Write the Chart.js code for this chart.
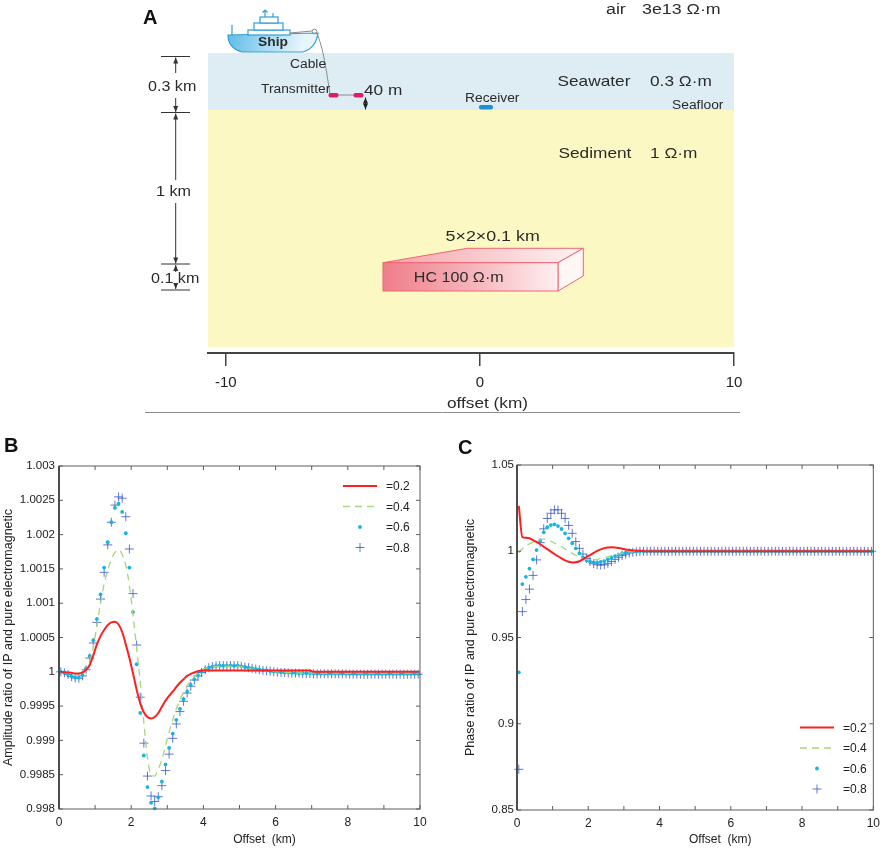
<!DOCTYPE html>
<html>
<head>
<meta charset="utf-8">
<title>Marine CSEM model and IP ratio curves</title>
<script src="https://cdn.jsdelivr.net/npm/chart.js@4.4.1/dist/chart.umd.min.js"></script>
<style>
    body { margin: 0; background: #fff; }
    #page { position: relative; width: 886px; height: 849px; overflow: hidden; }
    canvas { position: absolute; }
    .tag { position: absolute; font: bold 20px "Liberation Sans", Arial, sans-serif; color: #111; line-height: 22px; }
</style>
</head>
<body>
<div id="page">
    <canvas id="panelA" width="886" height="425" style="left:0;top:0"></canvas>
    <canvas id="panelB" width="443" height="424" style="left:0;top:425px"></canvas>
    <canvas id="panelC" width="443" height="424" style="left:443px;top:425px"></canvas>
    <div class="tag" style="left:143px;top:6px">A</div>
    <div class="tag" style="left:4px;top:434px">B</div>
    <div class="tag" style="left:458px;top:436px">C</div>
</div>
<script>
const FONT = '"Liberation Sans", Arial, sans-serif';

// receiver offsets (km)
const offsets = [
    0.05, 0.15, 0.25, 0.35, 0.45, 0.55, 0.65, 0.75, 0.85, 0.95,
    1.05, 1.15, 1.25, 1.35, 1.45, 1.55, 1.65, 1.75, 1.85, 1.95,
    2.05, 2.15, 2.25, 2.35, 2.45, 2.55, 2.65, 2.75, 2.85, 2.95,
    3.05, 3.15, 3.25, 3.35, 3.45, 3.55, 3.65, 3.75, 3.85, 3.95,
    4.05, 4.15, 4.25, 4.35, 4.45, 4.55, 4.65, 4.75, 4.85, 4.95,
    5.05, 5.15, 5.25, 5.35, 5.45, 5.55, 5.65, 5.75, 5.85, 5.95,
    6.05, 6.15, 6.25, 6.35, 6.45, 6.55, 6.65, 6.75, 6.85, 6.95,
    7.05, 7.15, 7.25, 7.35, 7.45, 7.55, 7.65, 7.75, 7.85, 7.95,
    8.05, 8.15, 8.25, 8.35, 8.45, 8.55, 8.65, 8.75, 8.85, 8.95,
    9.05, 9.15, 9.25, 9.35, 9.45, 9.55, 9.65, 9.75, 9.85, 9.95
];

const etaLabels = ['=0.2', '=0.4', '=0.6', '=0.8'];

// B: amplitude ratio
const ampEta02 = [
    1.00000, 0.999995, 0.99999, 0.999985, 0.999975, 0.999975, 0.99999, 1.00003, 1.00010, 1.00024,
    1.00040, 1.00052, 1.00061, 1.00068, 1.00072, 1.00073, 1.00069, 1.00058, 1.00040, 1.00020,
    0.99998, 0.99974, 0.99954, 0.99941, 0.99934, 0.99932, 0.99934, 0.99940, 0.99949, 0.99958,
    0.99965, 0.99971, 0.99978, 0.99984, 0.99989, 0.99994, 0.99997, 0.99999, 1.00001, 1.00002,
    1.00002, 1.00002, 1.00002, 1.00002, 1.00002, 1.00002, 1.00002, 1.00002, 1.00002, 1.00002,
    1.00002, 1.00002, 1.00002, 1.00002, 1.00002, 1.00002, 1.00002, 1.00002, 1.00002, 1.00002,
    1.00002, 1.00002, 1.00002, 1.00002, 1.00002, 1.00002, 1.00002, 1.00002, 1.00002, 1.00002,
    1.00000, 1.00000, 1.00000, 1.00000, 1.00000, 1.00000, 1.00000, 1.00000, 1.00000, 1.00000,
    1.00000, 1.00000, 1.00000, 1.00000, 1.00000, 1.00000, 1.00000, 1.00000, 1.00000, 1.00000,
    1.00000, 1.00000, 1.00000, 1.00000, 1.00000, 1.00000, 1.00000, 1.00000, 1.00000, 1.00000
];
const ampEta04 = [
    1.00000, 0.99999, 0.99998, 0.99996, 0.99995, 0.99995, 0.99997, 1.00004, 1.00016, 1.00036,
    1.00068, 1.00100, 1.00128, 1.00148, 1.00164, 1.00174, 1.00178, 1.00171, 1.00155, 1.00126,
    1.00083, 1.00035, 0.99985, 0.99926, 0.99875, 0.99850, 0.99848, 0.99858, 0.99872, 0.99892,
    0.99912, 0.99930, 0.99946, 0.99959, 0.99970, 0.99979, 0.99987, 0.99993, 0.99998, 1.00002,
    1.00005, 1.00006, 1.00007, 1.00008, 1.00008, 1.00008, 1.00008, 1.00008, 1.00008, 1.00008,
    1.00007, 1.00006, 1.00005, 1.00004, 1.00003, 1.000025, 1.00002, 1.000015, 1.00001, 1.000005,
    1.00000, 1.00000, 0.999995, 0.99999, 0.99999, 0.999985, 0.999985, 0.99998, 0.99998, 0.99998,
    0.99998, 0.99998, 0.99998, 0.99998, 0.99998, 0.99998, 0.99998, 0.99998, 0.99998, 0.99998,
    0.99998, 0.99998, 0.99998, 0.99998, 0.99998, 0.99998, 0.99998, 0.99998, 0.99998, 0.99998,
    0.99998, 0.99998, 0.99998, 0.99998, 0.99998, 0.99998, 0.99998, 0.99998, 0.99998, 0.99998
];
const ampEta06 = [
    1.00000, 0.99999, 0.999965, 0.999935, 0.999915, 0.999915, 0.999955, 1.00005, 1.00023, 1.00046,
    1.00077, 1.00113, 1.00152, 1.00189, 1.00218, 1.00239, 1.00245, 1.00233, 1.00202, 1.00152,
    1.00087, 1.00011, 0.99940, 0.99878, 0.99832, 0.99809, 0.99801, 0.99817, 0.99840, 0.99865,
    0.99889, 0.99910, 0.99930, 0.99946, 0.99960, 0.99971, 0.99981, 0.99989, 0.99995, 1.00000,
    1.00003, 1.00006, 1.000075, 1.000085, 1.00009, 1.00009, 1.00009, 1.00009, 1.00009, 1.00009,
    1.00008, 1.00007, 1.00006, 1.00005, 1.00004, 1.00003, 1.000025, 1.00002, 1.00001, 1.000005,
    1.00000, 0.999995, 0.99999, 0.99999, 0.999985, 0.999985, 0.99998, 0.99998, 0.99998, 0.99998,
    0.999975, 0.999975, 0.999975, 0.999975, 0.999975, 0.999975, 0.999975, 0.999975, 0.999975, 0.999975,
    0.99997, 0.99997, 0.99997, 0.99997, 0.99997, 0.99997, 0.99997, 0.99997, 0.99997, 0.99997,
    0.99997, 0.99997, 0.99997, 0.99997, 0.99997, 0.99997, 0.99997, 0.99997, 0.99997, 0.99997
];
const ampEta08 = [
    1.00000, 0.999985, 0.99996, 0.99993, 0.99991, 0.999905, 0.99994, 1.00003, 1.00020, 1.00042,
    1.00072, 1.00106, 1.00145, 1.00185, 1.00218, 1.00243, 1.00255, 1.00253, 1.00226, 1.00179,
    1.00114, 1.00039, 0.99963, 0.99896, 0.99848, 0.99819, 0.99811, 0.99818, 0.99834, 0.99856,
    0.99880, 0.99903, 0.99924, 0.99942, 0.99957, 0.99969, 0.99979, 0.99988, 0.99994, 0.99999,
    1.00003, 1.00006, 1.000075, 1.000085, 1.00009, 1.00009, 1.00009, 1.00009, 1.00009, 1.00009,
    1.00008, 1.00007, 1.00006, 1.00005, 1.00004, 1.00003, 1.00002, 1.000015, 1.00001, 1.00000,
    0.999995, 0.99999, 0.99999, 0.999985, 0.99998, 0.99998, 0.99998, 0.999975, 0.999975, 0.999975,
    0.99997, 0.99997, 0.99997, 0.99997, 0.99997, 0.99997, 0.99997, 0.99997, 0.99997, 0.99997,
    0.999965, 0.999965, 0.999965, 0.999965, 0.999965, 0.999965, 0.999965, 0.999965, 0.999965, 0.999965,
    0.999965, 0.999965, 0.999965, 0.999965, 0.999965, 0.999965, 0.999965, 0.999965, 0.999965, 0.999965
];

// C: phase ratio
const phaseEta02 = [
    1.0263, 1.0082, 1.0078, 1.0075, 1.0065, 1.0054, 1.0042, 1.0026, 1.0012, 0.9998,
    0.9984, 0.9971, 0.9959, 0.9947, 0.9939, 0.9935, 0.9936, 0.9942, 0.9953, 0.9966,
    0.9978, 0.9990, 1.0002, 1.0011, 1.0018, 1.0022, 1.0023, 1.0022, 1.0019, 1.0015,
    1.0010, 1.0007, 1.0005, 1.0003, 1.0002, 1.0001, 1.0000, 1.0000, 1.0000, 1.0000,
    1.0000, 1.0000, 1.0000, 1.0000, 1.0000, 1.0000, 1.0000, 1.0000, 1.0000, 1.0000,
    1.0000, 1.0000, 1.0000, 1.0000, 1.0000, 1.0000, 1.0000, 1.0000, 1.0000, 1.0000,
    1.0000, 1.0000, 1.0000, 1.0000, 1.0000, 1.0000, 1.0000, 1.0000, 1.0000, 1.0000,
    1.0000, 1.0000, 1.0000, 1.0000, 1.0000, 1.0000, 1.0000, 1.0000, 1.0000, 1.0000,
    1.0000, 1.0000, 1.0000, 1.0000, 1.0000, 1.0000, 1.0000, 1.0000, 1.0000, 1.0000,
    1.0000, 1.0000, 1.0000, 1.0000, 1.0000, 1.0000, 1.0000, 1.0000, 1.0000, 1.0000
];
const phaseEta04 = [
    0.9990, 1.0015, 1.0030, 1.0043, 1.0053, 1.0062, 1.0068, 1.0070, 1.0066, 1.0058,
    1.0048, 1.0037, 1.0026, 1.0013, 1.0000, 0.9988, 0.9977, 0.9967, 0.9959, 0.9953,
    0.9950, 0.9950, 0.9953, 0.9957, 0.9962, 0.9968, 0.9974, 0.9980, 0.9985, 0.9989,
    0.9993, 0.9996, 0.9998, 0.9999, 1.0000, 1.0000, 1.0000, 1.0000, 1.0000, 1.0000,
    1.0000, 1.0000, 1.0000, 1.0000, 1.0000, 1.0000, 1.0000, 1.0000, 1.0000, 1.0000,
    1.0000, 1.0000, 1.0000, 1.0000, 1.0000, 1.0000, 1.0000, 1.0000, 1.0000, 1.0000,
    1.0000, 1.0000, 1.0000, 1.0000, 1.0000, 1.0000, 1.0000, 1.0000, 1.0000, 1.0000,
    1.0000, 1.0000, 1.0000, 1.0000, 1.0000, 1.0000, 1.0000, 1.0000, 1.0000, 1.0000,
    1.0000, 1.0000, 1.0000, 1.0000, 1.0000, 1.0000, 1.0000, 1.0000, 1.0000, 1.0000,
    1.0000, 1.0000, 1.0000, 1.0000, 1.0000, 1.0000, 1.0000, 1.0000, 1.0000, 1.0000
];
const phaseEta06 = [
    0.9298, 0.9810, 0.9852, 0.9899, 0.9953, 1.0007, 1.0061, 1.0110, 1.0139, 1.0152,
    1.0156, 1.0146, 1.0129, 1.0104, 1.0075, 1.0046, 1.0017, 0.9988, 0.9965, 0.9949,
    0.9940, 0.9936, 0.9934, 0.9938, 0.9943, 0.9953, 0.9963, 0.9972, 0.9980, 0.9988,
    0.9992, 0.9996, 0.9998, 0.9999, 1.0000, 1.0000, 1.0000, 1.0000, 1.0000, 1.0000,
    1.0000, 1.0000, 1.0000, 1.0000, 1.0000, 1.0000, 1.0000, 1.0000, 1.0000, 1.0000,
    1.0000, 1.0000, 1.0000, 1.0000, 1.0000, 1.0000, 1.0000, 1.0000, 1.0000, 1.0000,
    1.0000, 1.0000, 1.0000, 1.0000, 1.0000, 1.0000, 1.0000, 1.0000, 1.0000, 1.0000,
    1.0000, 1.0000, 1.0000, 1.0000, 1.0000, 1.0000, 1.0000, 1.0000, 1.0000, 1.0000,
    1.0000, 1.0000, 1.0000, 1.0000, 1.0000, 1.0000, 1.0000, 1.0000, 1.0000, 1.0000,
    1.0000, 1.0000, 1.0000, 1.0000, 1.0000, 1.0000, 1.0000, 1.0000, 1.0000, 1.0000
];
const phaseEta08 = [
    0.8736, 0.9650, 0.9720, 0.9780, 0.9860, 0.9950, 1.0050, 1.0130, 1.0190, 1.0220,
    1.0240, 1.0240, 1.0220, 1.0190, 1.0150, 1.0104, 1.0056, 1.0017, 0.9984, 0.9958,
    0.9940, 0.9928, 0.9922, 0.9920, 0.9922, 0.9930, 0.9941, 0.9953, 0.9965, 0.9975,
    0.9983, 0.9990, 0.9994, 0.9997, 0.9999, 1.0000, 1.0000, 1.0000, 1.0000, 1.0000,
    1.0000, 1.0000, 1.0000, 1.0000, 1.0000, 1.0000, 1.0000, 1.0000, 1.0000, 1.0000,
    1.0000, 1.0000, 1.0000, 1.0000, 1.0000, 1.0000, 1.0000, 1.0000, 1.0000, 1.0000,
    1.0000, 1.0000, 1.0000, 1.0000, 1.0000, 1.0000, 1.0000, 1.0000, 1.0000, 1.0000,
    1.0000, 1.0000, 1.0000, 1.0000, 1.0000, 1.0000, 1.0000, 1.0000, 1.0000, 1.0000,
    1.0000, 1.0000, 1.0000, 1.0000, 1.0000, 1.0000, 1.0000, 1.0000, 1.0000, 1.0000,
    1.0000, 1.0000, 1.0000, 1.0000, 1.0000, 1.0000, 1.0000, 1.0000, 1.0000, 1.0000
];

const offsetTicks = [0, 2, 4, 6, 8, 10];
const sectionTicks = [-10, 0, 10];

// text squeezed a bit wider, like the scanned schematic
function wideText(ctx, text, x, y, size, align = 'left', bold = false) {
    ctx.save();
    ctx.font = `${bold ? 'bold ' : ''}${size}px ${FONT}`;
    ctx.fillStyle = '#2b2b2b';
    ctx.textBaseline = 'middle';
    ctx.textAlign = align;
    ctx.translate(x, y);
    ctx.scale(1.15, 1);
    ctx.fillText(text, 0, 0);
    ctx.restore();
}

function arrowHead(ctx, x, y, dir) {
    ctx.beginPath();
    ctx.moveTo(x, y);
    ctx.lineTo(x - 2.5, y - dir * 6);
    ctx.lineTo(x + 2.5, y - dir * 6);
    ctx.closePath();
    ctx.fill();
}

function vArrow(ctx, x, y0, y1) {
    ctx.beginPath();
    ctx.moveTo(x, y0);
    ctx.lineTo(x, y1);
    ctx.stroke();
    arrowHead(ctx, x, y1, y1 > y0 ? 1 : -1);
}

// model sketch of panel A
const schematic = {
    id: 'schematic',
    beforeDraw(chart) {
        const { ctx, chartArea: a } = chart;
        ctx.save();
        ctx.fillStyle = '#ddedf3';
        ctx.fillRect(a.left, a.top, a.right - a.left, 110 - a.top);
        ctx.fillStyle = '#fbf8c4';
        ctx.fillRect(a.left, 110, a.right - a.left, 347 - 110);
        ctx.restore();
    },
    afterDraw(chart) {
        const ctx = chart.ctx;
        ctx.save();

        // ship
        const hull = ctx.createLinearGradient(228, 34, 300, 54);
        hull.addColorStop(0, '#5fbce8');
        hull.addColorStop(1, '#e6f6fc');
        ctx.fillStyle = hull;
        ctx.strokeStyle = '#2f9fd6';
        ctx.lineWidth = 1.2;
        ctx.beginPath();
        ctx.moveTo(228, 35);
        ctx.lineTo(318, 33);
        ctx.quadraticCurveTo(316, 48, 303, 52);
        ctx.lineTo(242, 52);
        ctx.quadraticCurveTo(228, 48, 228, 35);
        ctx.closePath();
        ctx.fill();
        ctx.stroke();
        ctx.fillStyle = '#fff';
        [[248, 30, 42, 5], [254, 23, 29, 7], [260, 17, 18, 6]].forEach(([x, y, w, h]) => {
            ctx.fillRect(x, y, w, h);
            ctx.strokeRect(x, y, w, h);
        });
        ctx.beginPath();
        ctx.moveTo(265, 17); ctx.lineTo(265, 10);
        ctx.moveTo(262.5, 12.5); ctx.lineTo(265, 10); ctx.lineTo(267.5, 12.5);
        ctx.moveTo(273, 17); ctx.lineTo(273, 13);
        ctx.moveTo(232, 35); ctx.lineTo(232, 25);
        ctx.stroke();
        wideText(ctx, 'Ship', 258, 43, 12, 'left', true);

        // cable down to the towed transmitter
        ctx.strokeStyle = '#8a8a8a';
        ctx.lineWidth = 1;
        ctx.beginPath();
        ctx.moveTo(290, 33);
        ctx.lineTo(312, 31);
        ctx.stroke();
        ctx.beginPath();
        ctx.arc(314.5, 31.5, 2.3, 0, Math.PI * 2);
        ctx.stroke();
        ctx.beginPath();
        ctx.moveTo(316.5, 33);
        ctx.bezierCurveTo(323, 45, 327, 75, 330, 94);
        ctx.moveTo(333, 95);
        ctx.lineTo(358, 95);
        ctx.stroke();
        ctx.fillStyle = '#e01c6c';
        ctx.beginPath();
        ctx.roundRect(328.5, 93, 10, 4.5, 2);
        ctx.roundRect(353.5, 93, 10, 4.5, 2);
        ctx.fill();
        ctx.fillStyle = '#1d90d8';
        ctx.beginPath();
        ctx.roundRect(479, 105, 14, 4.5, 2);
        ctx.fill();

        ctx.fillStyle = '#222';
        ctx.strokeStyle = '#222';
        vArrow(ctx, 365.5, 103, 97.5);
        vArrow(ctx, 365.5, 103, 109.5);

        wideText(ctx, 'Cable', 290, 65, 12);
        wideText(ctx, 'Transmitter', 261, 90, 12);
        wideText(ctx, '40 m', 364, 91, 15);
        wideText(ctx, 'Receiver', 465, 99, 12);
        wideText(ctx, 'Seafloor', 672, 106, 12);
        wideText(ctx, 'air', 606, 10, 15.5);
        wideText(ctx, '3e13 Ω·m', 642, 10, 15.5);
        wideText(ctx, 'Seawater', 557.5, 82, 15);
        wideText(ctx, '0.3 Ω·m', 650, 82, 15);
        wideText(ctx, 'Sediment', 558.5, 154, 15);
        wideText(ctx, '1 Ω·m', 650, 154, 15);

        // hydrocarbon block
        const top = ctx.createLinearGradient(383, 0, 583, 0);
        top.addColorStop(0, '#f3a2aa');
        top.addColorStop(1, '#fff3f3');
        ctx.fillStyle = top;
        ctx.strokeStyle = '#ee6673';
        ctx.beginPath();
        ctx.moveTo(383, 262.7);
        ctx.lineTo(467.4, 248.3);
        ctx.lineTo(583.3, 248.3);
        ctx.lineTo(558, 262.7);
        ctx.closePath();
        ctx.fill();
        ctx.stroke();
        ctx.fillStyle = '#fff6f6';
        ctx.beginPath();
        ctx.moveTo(558, 262.7);
        ctx.lineTo(583.3, 248.3);
        ctx.lineTo(583.3, 276);
        ctx.lineTo(558, 291);
        ctx.closePath();
        ctx.fill();
        ctx.stroke();
        const front = ctx.createLinearGradient(383, 0, 558, 0);
        front.addColorStop(0, '#ef7e8a');
        front.addColorStop(0.55, '#f6b8be');
        front.addColorStop(1, '#fff0f1');
        ctx.fillStyle = front;
        ctx.fillRect(383, 262.7, 175, 28.3);
        ctx.strokeRect(383, 262.7, 175, 28.3);
        wideText(ctx, 'HC 100 Ω·m', 413.8, 278, 14);
        wideText(ctx, '5×2×0.1 km', 445.6, 237, 15.5);

        // thickness marks on the left
        ctx.strokeStyle = '#333';
        ctx.fillStyle = '#333';
        ctx.lineWidth = 1;
        ctx.beginPath();
        [56.5, 112.5, 264, 290].forEach(y => {
            ctx.moveTo(161, y);
            ctx.lineTo(190, y);
        });
        ctx.stroke();
        vArrow(ctx, 175.7, 73, 57.5);
        vArrow(ctx, 175.7, 98, 112);
        vArrow(ctx, 175.7, 180, 113.5);
        vArrow(ctx, 175.7, 203, 263.5);
        vArrow(ctx, 175.7, 272, 265);
        vArrow(ctx, 175.7, 283, 289);
        wideText(ctx, '0.3 km', 148, 87, 14);
        wideText(ctx, '1 km', 156, 192, 14);
        wideText(ctx, '0.1 km', 151, 279, 14);

        // axis caption and rule under it
        wideText(ctx, 'offset (km)', 487.5, 404, 15, 'center');
        ctx.strokeStyle = '#8c8c8c';
        ctx.beginPath();
        ctx.moveTo(145, 412.5);
        ctx.lineTo(740, 412.5);
        ctx.stroke();
        ctx.restore();
    }
};

// box with inward ticks on all four sides
const boxTicks = {
    id: 'boxTicks',
    afterDatasetsDraw(chart, args, o) {
        const { ctx, chartArea: a, scales: { x, y } } = chart;
        ctx.save();
        ctx.strokeStyle = '#5c5c5c';
        ctx.lineWidth = 1;
        ctx.beginPath();
        x.ticks.forEach(t => {
            const p = x.getPixelForValue(t.value);
            ctx.moveTo(p, a.bottom); ctx.lineTo(p, a.bottom - 4);
            ctx.moveTo(p, a.top); ctx.lineTo(p, a.top + 4);
        });
        y.ticks.forEach(t => {
            const p = y.getPixelForValue(t.value);
            ctx.moveTo(a.left, p); ctx.lineTo(a.left + 4, p);
            ctx.moveTo(a.right, p); ctx.lineTo(a.right - 4, p);
        });
        ctx.stroke();
        ctx.strokeRect(a.left, a.top, a.right - a.left, a.bottom - a.top);
        ctx.lineWidth = 1.8;
        ctx.strokeStyle = '#444';
        ctx.beginPath();
        ctx.moveTo(a.left, a.top);
        ctx.lineTo(a.left, a.bottom);
        ctx.stroke();

        ctx.fillStyle = '#222';
        ctx.font = `12px ${FONT}`;
        ctx.textAlign = 'center';
        ctx.textBaseline = 'middle';
        ctx.fillText(o.text, (a.left + a.right) / 2 + o.dx, chart.height - 9);
        ctx.restore();
    }
};

// legend drawn inside the plot from the dataset styles
const insetLegend = {
    id: 'insetLegend',
    afterDraw(chart, args, o) {
        const ctx = chart.ctx;
        ctx.save();
        chart.data.datasets.forEach((ds, i) => {
            const y = o.y + i * o.gap;
            const mid = o.x + o.len / 2;
            if (ds.showLine) {
                ctx.strokeStyle = ds.borderColor;
                ctx.lineWidth = ds.borderWidth;
                ctx.setLineDash(ds.borderDash || []);
                ctx.beginPath();
                ctx.moveTo(o.x, y);
                ctx.lineTo(o.x + o.len, y);
                ctx.stroke();
                ctx.setLineDash([]);
            } else if (ds.pointStyle === 'circle') {
                ctx.fillStyle = ds.backgroundColor;
                ctx.beginPath();
                ctx.arc(mid, y, ds.pointRadius, 0, Math.PI * 2);
                ctx.fill();
            } else {
                ctx.strokeStyle = ds.borderColor;
                ctx.lineWidth = ds.borderWidth;
                ctx.beginPath();
                ctx.moveTo(mid - ds.pointRadius, y); ctx.lineTo(mid + ds.pointRadius, y);
                ctx.moveTo(mid, y - ds.pointRadius); ctx.lineTo(mid, y + ds.pointRadius);
                ctx.stroke();
            }
            ctx.fillStyle = '#222';
            ctx.font = `12px ${FONT}`;
            ctx.textBaseline = 'middle';
            ctx.fillText(ds.label, o.textX, y + 1);
        });
        ctx.restore();
    }
};

function seriesSets(lists) {
    const pts = list => offsets.map((x, i) => ({ x, y: list[i] }));
    return [
        { label: etaLabels[0], data: pts(lists[0]), showLine: true, borderColor: '#ff1f1f', borderWidth: 2,
          pointRadius: 0, cubicInterpolationMode: 'monotone' },
        { label: etaLabels[1], data: pts(lists[1]), showLine: true, borderColor: '#a6d77a', borderWidth: 1.3,
          borderDash: [7, 5], pointRadius: 0, cubicInterpolationMode: 'monotone' },
        { label: etaLabels[2], data: pts(lists[2]), showLine: false, pointStyle: 'circle', pointRadius: 1.9,
          backgroundColor: '#19b3e0', borderColor: '#19b3e0', borderWidth: 0, clip: 6 },
        { label: etaLabels[3], data: pts(lists[3]), showLine: false, pointStyle: 'cross', pointRadius: 4.5,
          borderColor: 'rgba(58,88,196,0.8)', borderWidth: 1, clip: 6 }
    ];
}

function ratioChart(id, lists, cfg) {
    return new Chart(document.getElementById(id), {
        type: 'scatter',
        data: { datasets: seriesSets(lists) },
        options: {
            responsive: false,
            animation: false,
            events: [],
            layout: { padding: { left: cfg.padLeft, right: cfg.padRight, top: cfg.padTop, bottom: 0 } },
            plugins: {
                legend: { display: false },
                tooltip: { enabled: false },
                insetLegend: cfg.legend,
                boxTicks: { text: 'Offset  (km)', dx: 25 }
            },
            scales: {
                x: {
                    type: 'linear', min: 0, max: 10,
                    afterFit: s => { s.height = cfg.xHeight; },
                    grid: { display: false, drawTicks: false },
                    border: { display: false },
                    ticks: {
                        stepSize: 1, autoSkip: false, maxRotation: 0, padding: 6, color: '#222',
                        font: { family: FONT, size: 12 },
                        callback: v => offsetTicks.includes(v) ? String(v) : ''
                    }
                },
                y: {
                    min: cfg.min, max: cfg.max,
                    afterFit: s => { s.width = cfg.yWidth; },
                    grid: { display: false, drawTicks: false },
                    border: { display: false },
                    ticks: {
                        stepSize: cfg.step, padding: cfg.tickPad, color: '#222',
                        font: { family: FONT, size: 11.5 },
                        callback: v => String(+v.toFixed(cfg.digits))
                    },
                    title: {
                        display: true, text: cfg.title, color: '#222',
                        font: { family: FONT, size: 12.5 }, padding: { top: cfg.titlePad, bottom: 0 }
                    }
                }
            }
        },
        plugins: [boxTicks, insetLegend]
    });
}

new Chart(document.getElementById('panelA'), {
    type: 'scatter',
    data: { datasets: [] },
    options: {
        responsive: false,
        animation: false,
        events: [],
        layout: { padding: { left: 208, right: 152, top: 53, bottom: 0 } },
        plugins: { legend: { display: false }, tooltip: { enabled: false } },
        scales: {
            x: {
                type: 'linear', min: -10.7, max: 10,
                afterBuildTicks: s => { s.ticks = sectionTicks.map(v => ({ value: v })); },
                afterFit: s => { s.height = 72; },
                border: { display: true, color: '#444', width: 2 },
                grid: { drawOnChartArea: false, drawTicks: true, tickLength: 13, color: '#444', lineWidth: 1.5 },
                ticks: { font: { family: FONT, size: 15 }, color: '#222', padding: 8, maxRotation: 0 }
            },
            y: { display: false, min: 0, max: 1, reverse: true }
        }
    },
    plugins: [schematic]
});

ratioChart('panelB', [ampEta02, ampEta04, ampEta06, ampEta08], {
    min: 0.998, max: 1.003, step: 0.0005, digits: 4,
    title: 'Amplitude ratio of IP and pure electromagnetic',
    padLeft: 0, padRight: 23, padTop: 41, yWidth: 59, xHeight: 40, tickPad: 4, titlePad: 1,
    legend: { x: 343, y: 61, gap: 20.5, len: 34, textX: 386 }
});

ratioChart('panelC', [phaseEta02, phaseEta04, phaseEta06, phaseEta08], {
    min: 0.85, max: 1.05, step: 0.05, digits: 2,
    title: 'Phase ratio of IP and pure electromagnetic',
    padLeft: 16, padRight: 8, padTop: 40, yWidth: 58, xHeight: 39, tickPad: 3, titlePad: 4,
    legend: { x: 357, y: 302.5, gap: 20.5, len: 34, textX: 400 }
});
</script>
</body>
</html>
